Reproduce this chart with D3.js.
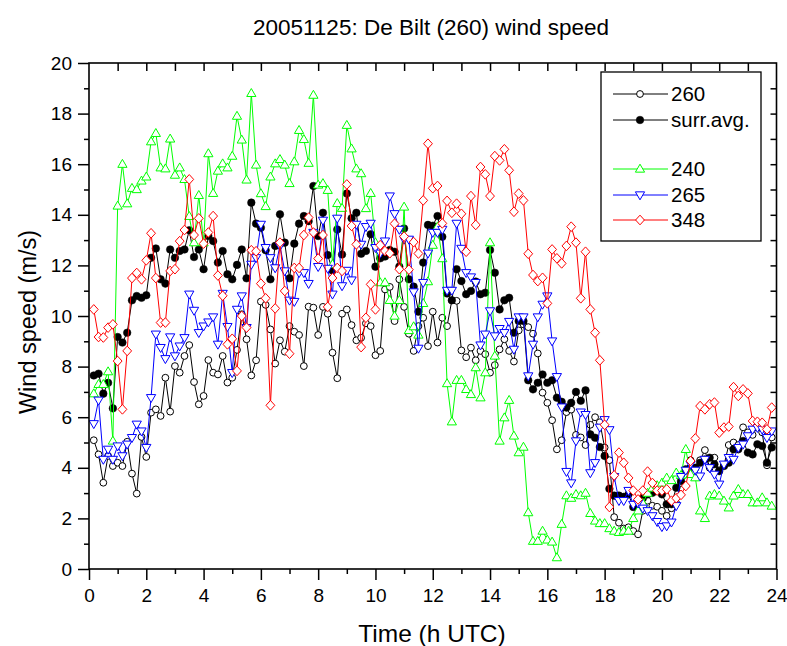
<!DOCTYPE html>
<html><head><meta charset="utf-8">
<script src="https://cdn.jsdelivr.net/npm/d3@7"></script>
<style>
html,body{margin:0;padding:0;background:#fff;}
svg{display:block;font-family:Arial,"Liberation Sans",sans-serif;}
</style></head>
<body><svg id="c" width="787" height="646"></svg>
<script>
// time of each observation, minutes after 00 UTC
const minutes = [10,20,30,40,50,60,70,80,90,100,110,120,130,140,150,160,170,180,190,200,
210,220,230,240,250,260,270,280,290,300,310,320,330,340,350,360,370,380,390,400,
410,420,430,440,450,460,470,480,490,500,510,520,530,540,550,560,570,580,590,600,
610,620,630,640,650,660,670,680,690,700,710,720,730,740,750,760,770,780,790,800,
810,820,830,840,850,860,870,880,890,900,910,920,930,940,950,960,970,980,990,1000,
1010,1020,1030,1040,1050,1060,1070,1080,1090,1100,1110,1120,1130,1140,1150,1160,1170,1180,1190,1200,
1210,1220,1230,1240,1250,1260,1270,1280,1290,1300,1310,1320,1330,1340,1350,1360,1370,1380,1390,1400,
1410,1420,1430];

const s260 = [5.09,4.53,3.41,4.47,4.07,4.2,4.07,5.03,3.77,2.98,5.22,4.43,6.18,6.31,6.05,7.56,6.22,8.02,7.76,8.42,
8.85,7.39,6.51,6.84,8.26,7.76,7.69,8.42,7.37,7.56,8.66,10.07,9.08,7.65,8.25,10.57,10.44,9.47,8.12,9.04,
8.59,9.6,9.38,9.25,8.02,10.37,10.33,9.25,10.36,10.09,8.55,7.54,10.09,10.26,9.64,9.04,9.14,9.71,9.6,8.45,
8.62,11.05,11.15,9.8,11.45,10.36,9.3,8.62,9.6,9.93,8.81,10.17,8.95,9.93,9.6,10.62,10.6,8.64,8.37,8.75,
8.25,8.62,8.49,7.76,8.06,8.68,9.08,8.62,8.2,9.43,9.67,9.56,9.3,8.52,6.97,6.57,5.88,4.73,5.09,6.2,
6.3,5.3,5.2,4.9,5.7,6.0,5.8,4.8,4.3,2.05,1.83,1.6,1.65,1.5,1.37,2.3,2.7,2.5,2.46,2.3,
2.1,2.4,2.6,3.4,3.9,4.3,4.0,4.3,4.7,4.0,4.4,3.9,4.1,4.9,5.0,4.9,5.6,5.4,5.3,5.6,
5.4,4.1,5.2];

const surrAvg = [7.65,7.72,6.93,7.36,6.35,9.17,8.95,9.34,10.62,10.79,10.72,10.82,12.3,12.67,11.45,11.28,12.63,12.3,12.57,12.63,
13.39,12.33,12.63,11.85,13.16,12.96,12.11,12.57,11.65,11.45,12.02,12.63,11.49,14.48,13.65,13.49,12.6,11.45,12.77,14.02,
12.9,11.49,12.86,13.65,13.95,13.75,15.14,13.16,14.08,12.41,11.8,13.42,12.43,14.84,13.86,14.08,12.46,12.57,13.23,11.95,
12.28,12.35,12.61,12.54,11.95,13.46,11.45,11.16,10.17,12.11,13.6,13.57,13.95,13.13,10.89,10.62,11.85,11.38,10.86,10.99,
11.36,10.86,10.92,12.61,11.71,10.26,10.62,10.72,9.34,9.8,9.8,7.46,7.1,7.36,7.69,7.36,7.46,6.77,6.61,6.38,
6.57,7.0,6.65,7.06,5.32,5.19,4.82,4.47,3.17,2.9,2.9,2.85,2.95,2.45,2.45,2.8,2.95,3.01,3.15,2.95,
2.56,2.56,3.21,3.48,3.94,4.0,4.0,4.2,4.33,4.4,4.14,3.87,4.07,4.2,4.73,4.73,5.06,4.6,4.53,4.93,
4.86,4.2,4.8];

const s240 = [6.93,7.3,7.3,7.8,5.06,14.35,16.0,14.44,15.05,15.0,15.34,15.5,16.89,17.22,15.86,15.82,17.0,15.57,15.86,15.4,
13.94,12.9,14.77,12.9,16.42,14.85,15.73,16.02,15.86,16.32,17.9,16.96,15.38,18.8,15.97,14.84,14.33,15.5,16.02,16.19,
15.97,15.24,16.1,17.34,16.98,16.04,18.73,15.18,15.24,14.97,12.04,14.45,14.26,17.54,16.61,15.82,15.63,14.25,14.85,12.9,
11.32,11.32,10.62,10.0,10.62,14.31,9.43,9.58,9.25,10.5,11.36,12.8,13.53,12.27,7.33,5.82,7.46,7.46,7.1,6.9,
7.96,6.77,7.76,12.9,8.42,5.06,5.98,6.67,5.26,4.6,4.82,2.23,1.1,1.1,1.5,1.15,1.07,0.45,1.77,2.9,
2.8,2.95,2.9,3.0,2.2,1.9,1.8,1.8,1.6,1.5,1.45,1.5,1.5,2.0,2.3,2.6,3.0,3.2,3.3,3.4,
3.6,3.5,3.8,3.7,4.73,3.74,3.61,2.3,2.0,2.89,2.95,2.89,2.69,2.42,2.89,3.15,2.95,2.95,2.62,2.62,
2.82,2.62,2.49];

const s265 = [5.74,6.67,4.33,4.73,4.33,4.86,4.47,4.93,5.19,5.72,5.45,4.8,6.77,9.28,8.75,8.31,9.17,8.42,8.81,9.14,
10.86,10.22,9.34,9.6,9.76,9.96,8.88,10.89,9.58,7.76,10.26,10.79,9.54,12.04,12.3,13.62,12.7,12.3,11.9,12.77,
11.78,10.62,10.57,11.71,11.71,11.28,13.3,11.95,13.78,11.88,10.86,13.86,11.19,11.8,11.42,13.62,12.83,13.53,13.66,12.7,
12.48,12.96,14.74,14.04,13.42,13.03,13.03,10.95,8.72,11.32,12.48,13.3,13.3,13.42,11.01,11.01,13.66,12.67,11.71,11.54,
11.32,8.85,9.28,10.2,9.21,9.5,9.34,9.78,8.68,9.96,9.96,7.63,8.88,9.96,10.46,10.79,9.01,7.6,6.4,3.85,
3.4,5.06,6.2,6.1,3.8,4.2,5.6,5.9,5.5,3.65,2.7,2.7,3.1,2.55,2.6,2.4,2.3,2.1,1.87,1.67,
1.7,1.85,2.5,3.65,3.9,4.14,3.9,3.67,4.33,4.0,3.74,3.35,4.14,4.4,4.33,4.8,4.93,5.26,5.52,5.59,
5.52,5.19,5.45];

const s348 = [10.26,9.17,9.15,9.54,9.67,8.22,6.31,8.62,11.5,11.7,11.45,12.2,13.27,11.5,9.74,9.74,11.78,11.85,12.96,13.4,
15.4,13.2,13.86,12.86,13.3,13.95,11.6,10.8,8.88,9.1,7.83,10.0,9.54,12.6,12.56,11.28,10.7,6.47,10.3,12.9,
10.99,8.51,11.9,11.9,13.2,13.89,13.3,12.27,13.2,10.36,11.5,11.9,11.78,15.2,13.56,12.83,8.77,9.93,11.25,10.26,
12.8,12.57,12.48,13.65,11.85,13.14,11.83,12.92,12.47,14.57,16.81,15.05,15.14,13.66,14.55,14.08,14.44,14.04,12.54,14.74,
13.6,15.89,15.6,14.74,16.32,16.15,16.59,15.76,14.12,14.84,14.57,12.46,11.62,11.38,11.51,10.5,12.63,12.28,12.08,12.77,
13.53,12.9,10.7,12.54,10.26,9.34,8.25,5.7,2.45,3.7,4.6,4.2,3.6,3.1,2.75,3.1,3.85,3.4,3.1,3.1,
3.15,2.7,2.8,2.93,3.28,4.27,5.16,6.44,6.31,6.51,6.58,5.39,5.59,5.63,7.19,6.84,7.1,6.94,5.85,5.82,
5.78,5.52,6.38];

const seriesNames = ["260","surr.avg.","240","265","348"];
const seriesColors = ["#000000","#000000","#00ff00","#0000ff","#ff0000"];
const seriesMarkers = ["circle","dot","triUp","triDown","diamond"];
const seriesValues = [s260, surrAvg, s240, s265, s348];

const xTicks = [0,2,4,6,8,10,12,14,16,18,20,22,24];
const yTicks = [0,2,4,6,8,10,12,14,16,18,20];
const titleText = "20051125: De Bilt (260) wind speed";
const xLabel = "Time (h UTC)";
const yLabel = "Wind speed (m/s)";

const svg = d3.select("#c");
const L = 89, R = 776.5, T = 63, B = 569;
const x = d3.scaleLinear().domain([0,24]).range([L,R]);
const y = d3.scaleLinear().domain([0,20]).range([B,T]);

function markerPath(type, cx, cy){
  const r = 4.2;
  if(type==="triUp") return `M${cx},${cy-r*1.15}L${cx+r*1.1},${cy+r*0.75}L${cx-r*1.1},${cy+r*0.75}Z`;
  if(type==="triDown") return `M${cx},${cy+r*1.15}L${cx+r*1.1},${cy-r*0.75}L${cx-r*1.1},${cy-r*0.75}Z`;
  if(type==="diamond") return `M${cx},${cy-r*1.15}L${cx+r*1.05},${cy}L${cx},${cy+r*1.15}L${cx-r*1.05},${cy}Z`;
  return null;
}
function drawMarker(g, type, cx, cy, color){
  if(type==="circle"){
    g.append("circle").attr("cx",cx).attr("cy",cy).attr("r",3.4).attr("fill","#fff").attr("stroke",color).attr("stroke-width",1);
  } else if(type==="dot"){
    g.append("circle").attr("cx",cx).attr("cy",cy).attr("r",3.8).attr("fill",color).attr("stroke",color).attr("stroke-width",0.5);
  } else {
    g.append("path").attr("d",markerPath(type,cx,cy)).attr("fill","#fff").attr("stroke",color).attr("stroke-width",1);
  }
}

svg.append("clipPath").attr("id","pc").append("rect").attr("x",L).attr("y",T).attr("width",R-L).attr("height",B-T);

const plot = svg.append("g").attr("clip-path","url(#pc)");
const line = d3.line().x((d,i)=>x(minutes[i]/60)).y(d=>y(d));
seriesValues.forEach((vals,k)=>{
  const g = plot.append("g");
  g.append("path").datum(vals).attr("d",line).attr("fill","none").attr("stroke",seriesColors[k]).attr("stroke-width",1);
  vals.forEach((v,i)=>drawMarker(g, seriesMarkers[k], x(minutes[i]/60), y(v), seriesColors[k]));
});

const axStyle = g=>{ g.selectAll(".domain").remove(); g.selectAll("line").attr("stroke","#000").attr("stroke-width",1.5);
  g.selectAll("text").attr("font-size",19).attr("fill","#000").attr("font-family","Arial, 'Liberation Sans', sans-serif"); };

svg.append("g").attr("transform",`translate(0,${B})`)
  .call(d3.axisBottom(x).tickValues(xTicks).tickSize(11).tickPadding(9).tickFormat(d3.format("d"))).call(axStyle);
svg.append("g").attr("transform",`translate(0,${B})`)
  .call(d3.axisBottom(x).tickValues(d3.range(1,24,2)).tickSize(5).tickFormat("")).call(axStyle);
svg.append("g").attr("transform",`translate(${L},0)`)
  .call(d3.axisLeft(y).tickValues(yTicks).tickSize(11).tickPadding(6).tickFormat(d3.format("d"))).call(axStyle);
svg.append("g").attr("transform",`translate(${L},0)`)
  .call(d3.axisLeft(y).tickValues(d3.range(1,20,2)).tickSize(5).tickFormat("")).call(axStyle);
svg.append("g").attr("transform",`translate(0,${T})`)
  .call(d3.axisBottom(x).tickValues(d3.range(1,24)).tickSize(8).tickFormat("")).call(axStyle);
svg.append("g").attr("transform",`translate(${R},0)`)
  .call(d3.axisLeft(y).tickValues(d3.range(1,20)).tickSize(6).tickFormat("")).call(axStyle);

svg.append("rect").attr("x",L).attr("y",T).attr("width",R-L).attr("height",B-T)
  .attr("fill","none").attr("stroke","#000").attr("stroke-width",1.6);

svg.append("text").attr("x",431).attr("y",35).attr("text-anchor","middle").attr("font-size",22.5).text(titleText);
svg.append("text").attr("x",432).attr("y",642).attr("text-anchor","middle").attr("font-size",24.5).text(xLabel);
svg.append("text").attr("transform","translate(36,322) rotate(-90)").attr("text-anchor","middle").attr("font-size",23.5).text(yLabel);

const lg = svg.append("g");
lg.append("rect").attr("x",601).attr("y",72).attr("width",160).attr("height",169).attr("fill","#fff").attr("stroke","#000").attr("stroke-width",1.3);
const legY = [94,120,169,195,220];
seriesNames.forEach((n,k)=>{
  lg.append("line").attr("x1",613).attr("x2",668).attr("y1",legY[k]).attr("y2",legY[k]).attr("stroke",seriesColors[k]).attr("stroke-width",1);
  drawMarker(lg, seriesMarkers[k], 640, legY[k], seriesColors[k]);
  lg.append("text").attr("x",671).attr("y",legY[k]+7).attr("font-size",20.5).text(n);
});
</script></body></html>
